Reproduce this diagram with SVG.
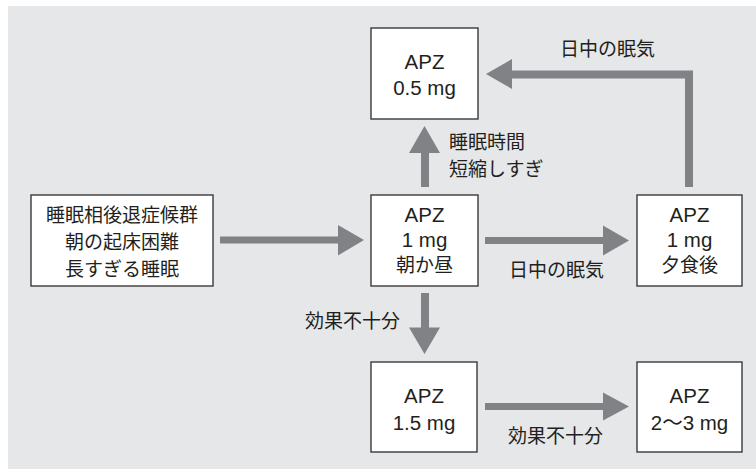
<svg xmlns="http://www.w3.org/2000/svg" width="756" height="469" viewBox="0 0 756 469">
  <style>
    .box { fill: #ffffff; stroke: #3a3a3a; stroke-width: 1.4; }
    .jp { font-family: "Liberation Sans", "Noto Sans CJK JP", sans-serif; font-size: 19px; fill: #231f20; }
    .c { text-anchor: middle; }
    .lat { font-family: "Liberation Sans", "Noto Sans CJK JP", sans-serif; font-size: 20.5px; fill: #231f20; text-anchor: middle; }
    .arrow { fill: #808285; }
  </style>
  <rect x="8" y="6" width="748" height="463" fill="#e6e7e8"/>

  <g id="connectors">
    <path class="arrow" d="M220,236.5 H338 V225 L364,240 L338,255.5 V243.5 H220 Z"/>
    <path class="arrow" d="M485,237 H603 V225.5 L629,240.5 L603,255.5 V244 H485 Z"/>
    <path class="arrow" d="M421,187 V153 H409 L424.5,126 L440,153 H429 V187 Z"/>
    <path class="arrow" d="M685,187 V78.5 H512 V89 L486,74 L512,59 V70.5 H693 V187 Z"/>
    <path class="arrow" d="M421,293 V327.5 H409 L424.5,354 L440,327.5 H429 V293 Z"/>
    <path class="arrow" d="M485,403 H603 V392.5 L629,406.5 L603,420.5 V410 H485 Z"/>
    <text class="jp" x="449" y="149">睡眠時間</text>
    <text class="jp" x="449" y="176">短縮しすぎ</text>
    <text class="jp" x="560" y="56">日中の眠気</text>
    <text class="jp" x="509" y="277">日中の眠気</text>
    <text class="jp" x="305" y="328">効果不十分</text>
    <text class="jp" x="508" y="443">効果不十分</text>
  </g>

  <g id="node-dspd">
    <rect class="box" x="31" y="195" width="182" height="91"/>
    <text class="jp c" x="122" y="222">睡眠相後退症候群</text>
    <text class="jp c" x="122" y="249">朝の起床困難</text>
    <text class="jp c" x="122" y="276">長すぎる睡眠</text>
  </g>

  <g id="node-apz05">
    <rect class="box" x="371" y="28" width="107" height="91"/>
    <text class="lat" x="424.5" y="68.5">APZ</text>
    <text class="lat" x="424.5" y="95">0.5 mg</text>
  </g>

  <g id="node-apz1-morning">
    <rect class="box" x="371" y="195" width="107" height="91"/>
    <text class="lat" x="424.5" y="222">APZ</text>
    <text class="lat" x="424.5" y="247">1 mg</text>
    <text class="jp c" x="424.5" y="272">朝か昼</text>
  </g>

  <g id="node-apz1-evening">
    <rect class="box" x="637" y="195" width="105" height="91"/>
    <text class="lat" x="689.5" y="222">APZ</text>
    <text class="lat" x="689.5" y="247">1 mg</text>
    <text class="jp c" x="689.5" y="272">夕食後</text>
  </g>

  <g id="node-apz15">
    <rect class="box" x="371" y="362" width="106" height="90"/>
    <text class="lat" x="424" y="403">APZ</text>
    <text class="lat" x="424" y="429.5">1.5 mg</text>
  </g>

  <g id="node-apz23">
    <rect class="box" x="637" y="362" width="105" height="90"/>
    <text class="lat" x="689.5" y="403">APZ</text>
    <text class="lat" x="689.5" y="429.5">2〜3 mg</text>
  </g>
</svg>
